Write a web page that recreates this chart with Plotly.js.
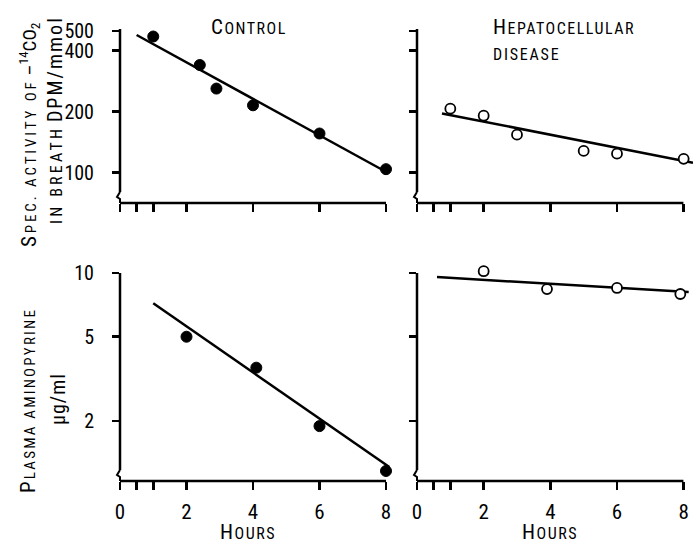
<!DOCTYPE html>
<html>
<head>
<meta charset="utf-8">
<script src="https://cdn.plot.ly/plotly-3.0.1.min.js"></script>
<style>html,body{margin:0;padding:0;background:#fff;}#chart{width:693px;height:543px;}</style>
</head>
<body>
<div id="chart"></div>
<script>
// ---- data ----
const ctrlBreathHours = [1, 2.4, 2.9, 4, 6, 8];
const ctrlBreath      = [470, 340, 260, 215, 156, 104];
const ctrlBreathFitHours = [0.5, 7.9];
const ctrlBreathFit      = [478, 103];

const hepBreathHours = [1, 2, 3, 5, 6, 8];
const hepBreath      = [207, 191, 154, 128, 124, 117];
const hepBreathFitHours = [0.75, 8.28];
const hepBreathFit      = [196, 112];

const ctrlPlasmaHours = [2, 4.1, 6, 8];
const ctrlPlasma      = [5.0, 3.57, 1.89, 1.16];
const ctrlPlasmaFitHours = [1, 8.1];
const ctrlPlasmaFit      = [7.2, 1.21];

const hepPlasmaHours = [2, 3.9, 6, 7.9];
const hepPlasma      = [10.2, 8.4, 8.5, 7.96];
const hepPlasmaFitHours = [0.6, 8.15];
const hepPlasmaFit      = [9.57, 8.13];

const xTickVals = [0, 2, 4, 6, 8];
const xTickText = ['0', '2', '4', '6', '8'];
const xMinorTickVals = [0.5, 1];
const breathTickVals = [100, 200, 400, 500];
const breathTickText = ['100', '200', '400', '500'];
const plasmaTickVals = [2, 5, 10];
const plasmaTickText = ['2', '5', '10'];

const panelTitle1 = 'Control';
const panelTitle2a = 'Hepatocellular';
const panelTitle2b = 'disease';
const xTitle = 'Hours';
const breathTitle1 = 'Spec. activity of';
const breathTitle1b = '–<sup>14</sup>CO<sub>2</sub>';
const breathTitle2a = 'in breath';
const breathTitle2b = 'DPM/mmol';
const plasmaTitle1 = 'Plasma aminopyrine';
const plasmaTitle2 = 'μg/ml';

// ---- styling ----
const FONT = 'Roboto Condensed, Liberation Sans, sans-serif';
const W = 693, H = 543;
const px = v => v / W;
const py = v => 1 - v / H;

// small-caps look: first letter large, rest uppercase smaller, letter-spaced
function smallCaps(s, big, small, ls, capFirst) {
  const first = capFirst ? `<span style="font-size:${big}px;letter-spacing:${ls}px">${s[0].toUpperCase()}</span>` : '';
  const rest = capFirst ? s.slice(1) : s;
  return first + `<span style="font-size:${small}px;letter-spacing:${ls}px">${rest.toUpperCase()}</span>`;
}

function pts(x, y, xa, ya, open) {
  return {x: x, y: y, xaxis: xa, yaxis: ya, type: 'scatter', mode: 'markers', cliponaxis: false,
    marker: {size: open ? 10 : 11, color: open ? '#ffffff' : '#000000', line: {color: '#000', width: open ? 1.8 : 1}}, hoverinfo: 'skip'};
}
function fit(x, y, xa, ya) {
  return {x: x, y: y, xaxis: xa, yaxis: ya, type: 'scatter', mode: 'lines', cliponaxis: false,
    line: {color: '#000', width: 2.5}, hoverinfo: 'skip'};
}

const data = [
  fit(ctrlBreathFitHours, ctrlBreathFit, 'x', 'y'),
  pts(ctrlBreathHours, ctrlBreath, 'x', 'y', false),
  fit(hepBreathFitHours, hepBreathFit, 'x2', 'y2'),
  pts(hepBreathHours, hepBreath, 'x2', 'y2', true),
  fit(ctrlPlasmaFitHours, ctrlPlasmaFit, 'x3', 'y3'),
  pts(ctrlPlasmaHours, ctrlPlasma, 'x3', 'y3', false),
  fit(hepPlasmaFitHours, hepPlasmaFit, 'x4', 'y4'),
  pts(hepPlasmaHours, hepPlasma, 'x4', 'y4', true)
];

// pixel geometry of panels
const L = {x0: 120, x1: 120 + 8.3 * 33.25};
const R = {x0: 417, x1: 693};
const T = {top: 31, bot: 203, pxPerDec: 200};
const B = {top: 273, bot: 481, pxPerDec: 210.6};
const breathTop = 530, plasmaTop = 10.8;
const breathRange = [Math.log10(100) - (T.bot - 173) / T.pxPerDec, Math.log10(breathTop)];
const plasmaRange = [Math.log10(1.04), Math.log10(plasmaTop)];
const Tdom = T.top - Math.log10(breathTop / 500) * T.pxPerDec;
const Bdom = B.top - Math.log10(plasmaTop / 10) * B.pxPerDec;

const tickFont = {family: FONT, size: 20, color: '#000'};
function xax(dom, range, labels, anchor) {
  return {domain: dom, range: range, anchor: anchor, showgrid: false, zeroline: false, showline: false,
    ticks: 'outside', ticklen: 8, tickwidth: 2.5, tickcolor: '#000',
    tickmode: 'array', tickvals: xTickVals, ticktext: xTickText, showticklabels: labels, ticklabelstandoff: 4,
    minor: {tickmode: 'array', tickvals: xMinorTickVals, ticks: 'outside', ticklen: 8, tickwidth: 2.5, tickcolor: '#000', showgrid: false},
    tickfont: {family: FONT, size: 21, color: '#000'}};
}
function yax(dom, range, tv, tt, labels, anchor) {
  return {domain: dom, type: 'log', range: range, anchor: anchor, showgrid: false, zeroline: false, showline: false,
    ticks: 'outside', ticklen: 7, tickwidth: 2.5, tickcolor: '#000',
    tickvals: tv, ticktext: tt, showticklabels: labels, ticklabelstandoff: 14,
    tickfont: tickFont};
}

// axis lines with break marks
const shapes = [];
function axisFrame(xl, xr, yt, yb) {
  const st = {color: '#000', width: 2.5};
  shapes.push({type: 'line', xref: 'paper', yref: 'paper', x0: px(xl), x1: px(xr), y0: py(yb), y1: py(yb), line: st});
  shapes.push({type: 'line', xref: 'paper', yref: 'paper', x0: px(xl), x1: px(xl), y0: py(yt), y1: py(yb - 11), line: st});
  shapes.push({type: 'path', xref: 'paper', yref: 'paper',
    path: `M ${px(xl)} ${py(yb - 11)} L ${px(xl - 3)} ${py(yb - 6)} L ${px(xl)} ${py(yb - 4)} L ${px(xl)} ${py(yb)}`,
    line: {color: '#000', width: 2}});
}
axisFrame(120, 120 + 8 * 33.25, T.top - 2, T.bot);
axisFrame(417, 417 + 8 * 33.3, T.top - 2, T.bot);
axisFrame(120, 120 + 8 * 33.25, B.top, B.bot);
axisFrame(417, 417 + 8 * 33.3, B.top, B.bot);

const base = {family: FONT, size: 17, color: '#000'};
function ann(text, x, y, opts) {
  return Object.assign({text: text, xref: 'paper', yref: 'paper', x: px(x), y: py(y), showarrow: false,
    font: base, xanchor: 'center', yanchor: 'middle'}, opts || {});
}
const annotations = [
  ann(smallCaps(panelTitle1, 21, 16, 1.5, true), 249, 27),
  ann(smallCaps(panelTitle2a, 21, 16, 1.5, true), 491, 27, {xanchor: 'left'}),
  ann(smallCaps(panelTitle2b, 21, 16, 1.8, false), 491, 55, {xanchor: 'left'}),
  ann(smallCaps(breathTitle1, 21, 15, 2.9, true) + ' ' + `<span style="font-size:19px">${breathTitle1b}</span>`, 29, 135, {textangle: -90}),
  ann(smallCaps(breathTitle2a, 21, 16, 3.2, false) + ' ' + `<span style="font-size:20px;letter-spacing:2px">${breathTitle2b}</span>`, 55, 120, {textangle: -90}),
  ann(smallCaps(plasmaTitle1, 21, 15, 2.2, true), 28, 401, {textangle: -90}),
  ann(`<span style="font-size:20px;letter-spacing:1px">${plasmaTitle2}</span>`, 58, 399, {textangle: -90}),
  ann(smallCaps(xTitle, 21, 16, 1.5, true), 248, 532),
  ann(smallCaps(xTitle, 21, 16, 1.5, true), 550, 532)
];

const layout = {
  width: W, height: H, margin: {l: 0, r: 0, t: 0, b: 0},
  paper_bgcolor: '#fff', plot_bgcolor: 'rgba(0,0,0,0)', showlegend: false,
  xaxis:  xax([px(L.x0), px(L.x1)], [0, 8.3], false, 'y'),
  xaxis2: xax([px(R.x0), px(R.x1)], [0, 8.28], false, 'y2'),
  xaxis3: xax([px(L.x0), px(L.x1)], [0, 8.3], true, 'y3'),
  xaxis4: xax([px(R.x0), px(R.x1)], [0, 8.28], true, 'y4'),
  yaxis:  yax([py(T.bot), py(Tdom)], breathRange, breathTickVals, breathTickText, true, 'x'),
  yaxis2: yax([py(T.bot), py(Tdom)], breathRange, breathTickVals, breathTickText, false, 'x2'),
  yaxis3: yax([py(B.bot), py(Bdom)], plasmaRange, plasmaTickVals, plasmaTickText, true, 'x3'),
  yaxis4: yax([py(B.bot), py(Bdom)], plasmaRange, plasmaTickVals, plasmaTickText, false, 'x4'),
  shapes: shapes, annotations: annotations
};

Plotly.newPlot('chart', data, layout, {staticPlot: true, displayModeBar: false});
</script>
</body>
</html>
